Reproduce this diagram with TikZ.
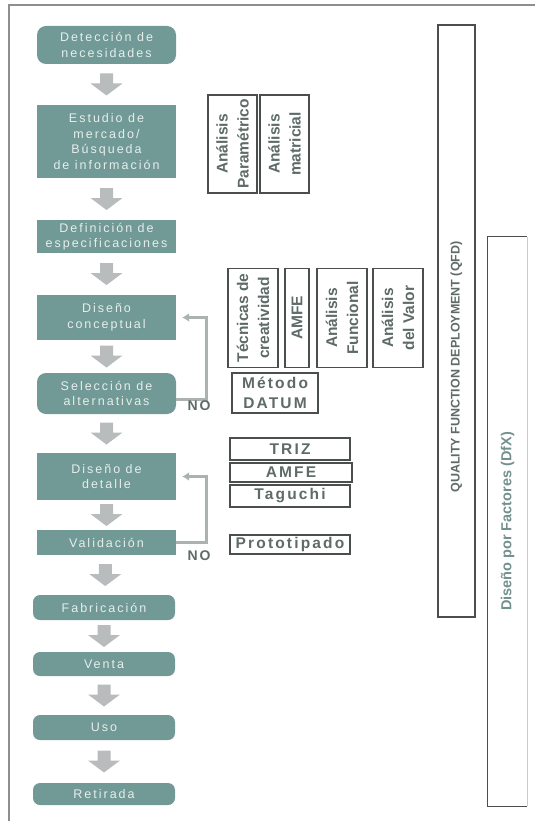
\documentclass[tikz,border=0pt]{standalone}
\usepackage{fontspec}
\setmainfont{Liberation Sans}
\newfontfamily\stagefont[LetterSpace=16]{Liberation Sans}
\newfontfamily\widelabel[LetterSpace=14]{Liberation Sans}
\newfontfamily\rotlabel{Liberation Sans}
\usetikzlibrary{calc,arrows.meta}
\definecolor{stagefill}{HTML}{719A96}
\definecolor{stagetext}{HTML}{E6EEEC}
\definecolor{flowgrey}{HTML}{B8BCBC}
\definecolor{loopgrey}{HTML}{ACB2B1}
\definecolor{labelgrey}{HTML}{5E6B69}
\definecolor{edgegrey}{HTML}{4A4F4E}
\definecolor{dfxgrey}{HTML}{73918C}
\definecolor{framegrey}{HTML}{8C8F8E}
\definecolor{fadegrey}{HTML}{C8CCCB}

\begin{document}
\begin{tikzpicture}[x=1pt,y=-1pt,
  stage/.style={fill=stagefill, text=stagetext, minimum width=139pt,
    inner sep=0pt, align=center,
    font=\stagefont\fontsize{12.5}{15.5}\selectfont},
  roundstage/.style={stage, rounded corners=9pt},
  toolbox/.style={draw=edgegrey, line width=1.1pt, fill=white, text=labelgrey,
    inner sep=0pt, align=center,
    font=\widelabel\bfseries\fontsize{15.5}{20}\selectfont},
  rotbox/.style={draw=edgegrey, line width=1.1pt, fill=white, text=labelgrey,
    inner sep=0pt, align=center, rotate=90,
    font=\rotlabel\bfseries\fontsize{15.5}{21}\selectfont},
  feedback/.style={draw=loopgrey, line width=3pt,
    -{Latex[length=7pt,width=9pt]}, shorten >=6pt},
  nolabel/.style={text=labelgrey, inner sep=0pt,
    font=\widelabel\bfseries\fontsize{14}{16}\selectfont},
  flowarrow/.pic={
    \fill[flowgrey] (-6.5,-11) -- (6.5,-11) -- (6.5,-1) -- (16,-1)
      -- (0,11) -- (-16,-1) -- (-6.5,-1) -- cycle;
  }
]
\useasboundingbox (0,0) rectangle (535,821);

% page frame
\draw[framegrey, line width=1.2pt] (9,821) -- (9,5) -- (535,5);

% design process stages
\node[roundstage, minimum height=38pt] (det) at (106.5,45) {Detección de\\necesidades};
\node[stage, minimum height=73pt] (est) at (106.5,141.5) {Estudio de\\mercado/\\Búsqueda\\de información};
\node[stage, minimum height=33pt] (def) at (106.5,236.5) {Definición de\\especificaciones};
\node[stage, minimum height=45pt] (dcon) at (106.5,317.5) {Diseño\\conceptual};
\node[roundstage, minimum height=41pt] (sel) at (106.5,393.5) {Selección de\\alternativas};
\node[stage, minimum height=47pt] (ddet) at (106.5,476.5) {Diseño de\\detalle};
\node[stage, minimum height=25pt] (val) at (106.5,542.5) {Validación};
\node[roundstage, rounded corners=7pt, minimum width=142pt, minimum height=25pt] (fab) at (104,607.5) {Fabricación};
\node[roundstage, rounded corners=7pt, minimum width=142pt, minimum height=24pt] (ven) at (104,664) {Venta};
\node[roundstage, rounded corners=7pt, minimum width=142pt, minimum height=25pt] (uso) at (104,727.5) {Uso};
\node[roundstage, rounded corners=7pt, minimum width=142pt, minimum height=22pt] (ret) at (104,794) {Retirada};

% block arrows between consecutive stages
\foreach \a/\b in {det/est, est/def, def/dcon, dcon/sel, sel/ddet,
                   ddet/val, val/fab, fab/ven, ven/uso, uso/ret}
  \pic at ($(\a.south)!0.5!(\b.north)$) {flowarrow};

% iteration loops
\draw[feedback] ([yshift=-6pt]sel.east) -- ++(30,0) |- (dcon.east);
\draw[feedback] (val.east) -- ++(30,0) |- (ddet.east);
\node[nolabel] (no1) at (199,406) {NO};
\node[nolabel] (no2) at (199,556) {NO};

% tools: information search
\node[rotbox, minimum width=98pt, minimum height=49pt] (apar) at (232.5,144) {Análisis\\Paramétrico};
\node[rotbox, minimum width=98pt, minimum height=49pt] (amat) at (284.5,144) {Análisis\\matricial};

% tools: conceptual design
\node[rotbox, minimum width=99pt, minimum height=50pt] (tcre) at (253,318) {Técnicas de\\creatividad};
\node[rotbox, minimum width=99pt, minimum height=24pt] (amfea) at (297,318) {AMFE};
\node[rotbox, minimum width=99pt, minimum height=50pt] (afun) at (342,318) {Análisis\\Funcional};
\node[rotbox, minimum width=99pt, minimum height=50pt] (aval) at (398,318) {Análisis\\del Valor};

% tools: selection and detail design
\node[toolbox, minimum width=86pt, minimum height=40pt] (datum) at (275,393) {Método\\DATUM};
\node[toolbox, minimum width=120pt, minimum height=22pt] (triz) at (290,449) {TRIZ};
\node[toolbox, minimum width=122pt, minimum height=19pt] (amfeb) at (291,472.5) {AMFE};
\node[toolbox, minimum width=120pt, minimum height=22pt] (tagu) at (290,496) {Taguchi};
\node[toolbox, minimum width=120pt, minimum height=19pt] (proto) at (290,544.5) {Prototipado};

% QFD band
\node[draw=edgegrey, line width=1.1pt, minimum width=37pt, minimum height=592pt, inner sep=0pt] (qfd) at (456.5,321) {};
\node[rotate=90, text=labelgrey, inner sep=0pt,
  font=\rotlabel\bfseries\fontsize{12.5}{14}\selectfont] (qfdtext) at (456.5,367)
  {QUALITY FUNCTION DEPLOYMENT (QFD)};

% DfX band
\node[minimum width=39pt, minimum height=569pt, inner sep=0pt] (dfx) at (507.5,521.5) {};
\draw[edgegrey, line width=1.1pt] (dfx.north east) -- (dfx.north west)
  -- (dfx.south west) -- (dfx.south east);
\draw[fadegrey, line width=1.1pt] (dfx.north east) -- (dfx.south east);
\node[rotate=90, text=dfxgrey, inner sep=0pt,
  font=\rotlabel\bfseries\fontsize{14.5}{16}\selectfont] (dfxtext) at (dfx.center)
  {Diseño por Factores (DfX)};
\end{tikzpicture}
\end{document}
